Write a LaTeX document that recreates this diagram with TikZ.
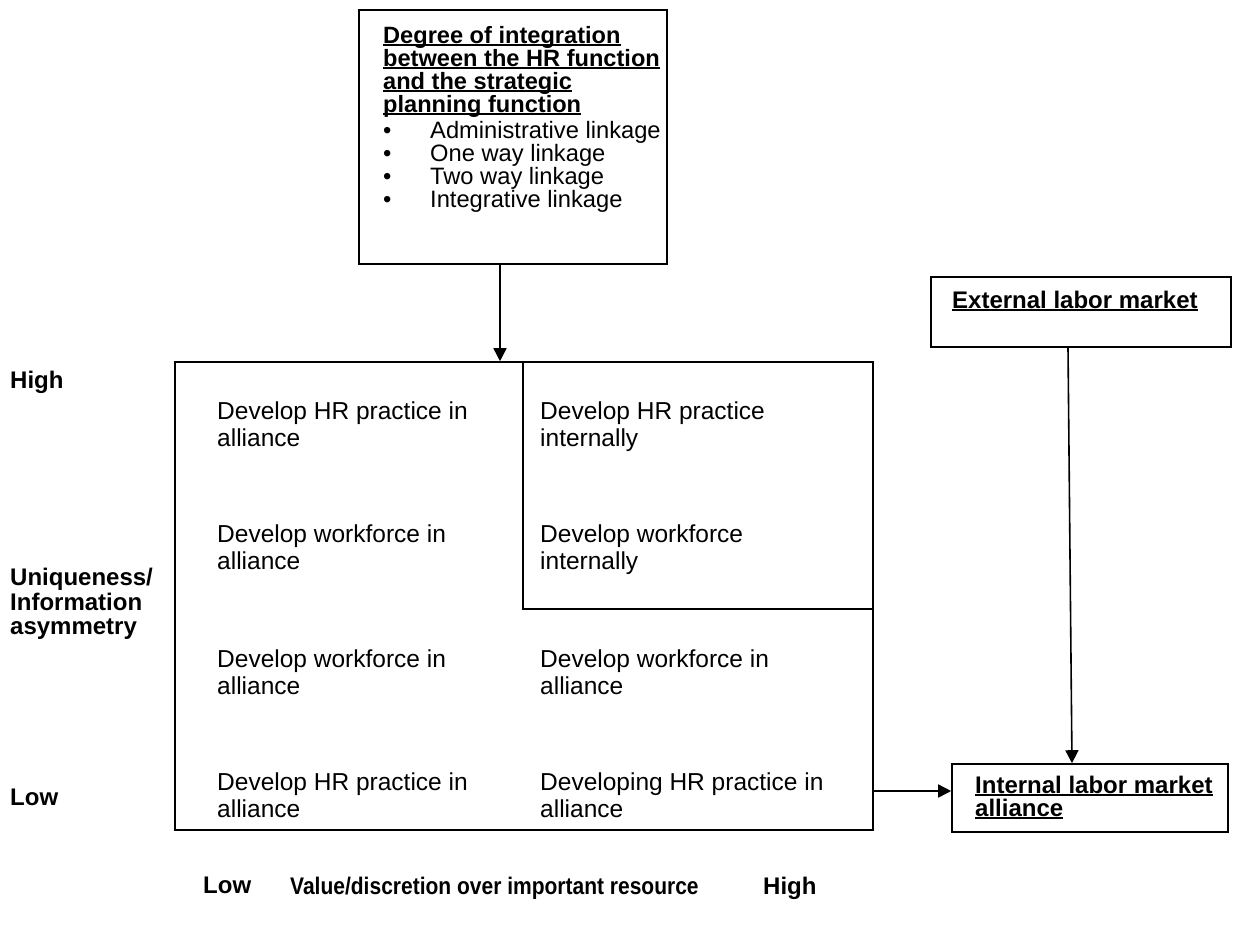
\documentclass[tikz,border=0pt]{standalone}
\usepackage{fontspec}
\setmainfont{Liberation Sans}
\newfontfamily\narrowsans[FakeStretch=0.875]{Liberation Sans}
\usetikzlibrary{arrows.meta,calc}
\newcommand\ulx[1]{\setbox0\hbox{#1}\rlap{\rule[-2.6pt]{\wd0}{1.9pt}}\box0}
\begin{document}
\begin{tikzpicture}[x=1pt,y=-1pt,
  box/.style={draw, line width=1.6pt, inner sep=0pt, rectangle},
  arr/.style={line width=1.6pt, -{Triangle[length=13pt,width=13pt]}},
  txt/.style={anchor=north west, inner sep=0pt, align=left, font=\fontsize{24.5}{27}\selectfont},
  lbl/.style={anchor=north west, inner sep=0pt, align=left, font=\fontsize{24}{24.5}\selectfont\bfseries},
]
\useasboundingbox (0,0) rectangle (1248,924);
\fill[white] (0,0) rectangle (1248,924);

% boxes
\node[box, minimum width=308pt, minimum height=254pt] (top) at (513,137) {};
\node[box, minimum width=698pt, minimum height=468pt] (main) at (524,596) {};
\node[box, minimum width=350pt, minimum height=247pt] (inner) at (698,485.5) {};
\node[box, minimum width=300pt, minimum height=70pt] (ext) at (1081,312) {};
\node[box, minimum width=276pt, minimum height=68pt] (int) at (1090,798) {};

% top box text
\node[anchor=north west, inner sep=0pt, align=left, font=\fontsize{23.6}{23}\selectfont\bfseries] (head) at (383,26)
  {\ulx{Degree of integration}\\\ulx{between the HR function}\\\ulx{and the strategic}\\\ulx{planning function}};
\node[anchor=north west, inner sep=0pt, align=left, font=\fontsize{23.7}{23}\selectfont] (bul) at (383,121)
  {\makebox[47pt][l]{•}Administrative linkage\\\makebox[47pt][l]{•}One way linkage\\\makebox[47pt][l]{•}Two way linkage\\\makebox[47pt][l]{•}Integrative linkage};

% quadrant texts
\node[txt] (q11) at (217,402) {Develop HR practice in\\alliance};
\node[txt] (q12) at (540,402) {Develop HR practice\\internally};
\node[txt] (q21) at (217,525) {Develop workforce in\\alliance};
\node[txt] (q22) at (540,525) {Develop workforce\\internally};
\node[txt] (q31) at (217,650) {Develop workforce in\\alliance};
\node[txt] (q32) at (540,650) {Develop workforce in\\alliance};
\node[txt] (q41) at (217,773) {Develop HR practice in\\alliance};
\node[txt] (q42) at (540,773) {Developing HR practice in\\alliance};

% axis labels
\node[lbl] (yhigh) at (10,371) {High};
\node[lbl] (yname) at (10,568) {Uniqueness/\\Information\\asymmetry};
\node[lbl] (ylow) at (10,789) {Low};
\node[lbl] (xlow) at (203,877) {Low};
\node[lbl, font=\fontsize{24}{24.5}\selectfont\narrowsans\bfseries] (xname) at (290,877) {Value/discretion over important resource};
\node[lbl] (xhigh) at (763,877) {High};

% market boxes text
\node[lbl] (exttxt) at (952,291) {\ulx{External labor market}};
\node[anchor=north west, inner sep=0pt, align=left, font=\fontsize{24}{23}\selectfont\bfseries] (inttxt) at (975,776)
  {\ulx{Internal labor market}\\\ulx{alliance}};

% connectors
\draw[arr] ([xshift=-13pt]top.south) -- ([xshift=-24pt]main.north);
\draw[arr] ([yshift=-195pt]main.east) -- ([yshift=7pt]int.west);
\draw[arr] ([xshift=-13pt]ext.south) -- ([xshift=-18pt]int.north);
\end{tikzpicture}
\end{document}
